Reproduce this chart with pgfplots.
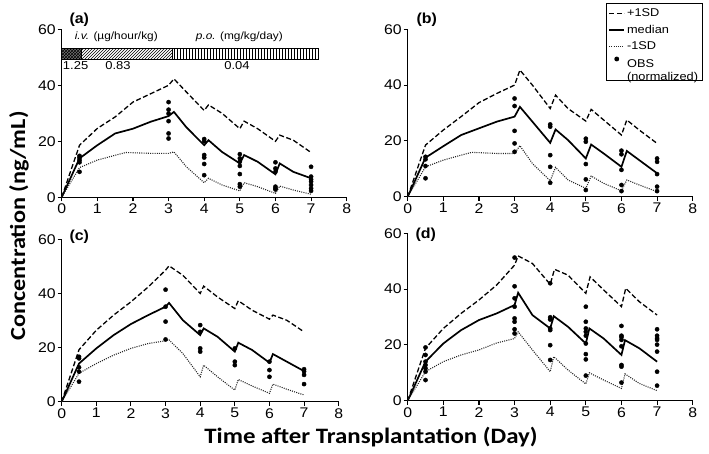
\documentclass[border=0pt]{standalone}
\usepackage{pgfplots}
\pgfplotsset{compat=1.18}
\usepackage{graphicx}
\usepackage{fontspec}
\setmainfont{Liberation Sans}
\newfontfamily\carlito{Carlito}
\usetikzlibrary{patterns}
\newcommand\sx[1]{\scalebox{1.13}[1]{#1}}

\pgfplotsset{
 panel/.style={
  scale only axis, xmin=0, xmax=8, ymin=0, ymax=60,
  axis x line=bottom, axis y line=left,
  axis line style={line width=1.3pt,-},
  xtick={0,...,8}, ytick={0,20,40,60},
  tick align=outside, major tick length=4pt,
  every tick/.style={line width=1.1pt, black},
  /pgf/number format/assume math mode=true,
  xticklabel={\sx{\pgfmathprintnumber{\tick}}},
  yticklabel={\sx{\pgfmathprintnumber{\tick}}},
  ticklabel style={font=\fontsize{14}{16}\selectfont},
  xticklabel style={yshift=1pt},
  yticklabel style={xshift=1.5pt},
  clip=false,
 },
 upper/.style={black, line width=1.3pt, dash pattern=on 5pt off 2.5pt},
 med/.style={black, line width=1.7pt},
 lower/.style={black!85, line width=1.1pt, dash pattern=on 1pt off 1.2pt},
 obs/.style={only marks, mark=*, mark size=2.1pt, black},
}

\begin{document}
\begin{tikzpicture}[x=1pt,y=1pt]
\useasboundingbox (0,0) rectangle (709,453);

% ---------------- panel (a)
\begin{axis}[panel, width=285pt, height=168pt, at={(61.7pt,255.7pt)}, anchor=south west]
\fill[black!55] (axis cs:0,49.2) rectangle (axis cs:0.55,53.1);
\fill[pattern=crosshatch, pattern color=black] (axis cs:0,49.2) rectangle (axis cs:0.55,53.1);
\fill[pattern=north east lines] (axis cs:0.55,49.2) rectangle (axis cs:3.12,53.1);
\fill[pattern=vertical lines] (axis cs:3.12,49.2) rectangle (axis cs:7.2,53.1);
\draw[line width=0.8pt] (axis cs:0,49.2) rectangle (axis cs:7.2,53.1);
\draw[line width=0.8pt] (axis cs:0.55,49.2) -- (axis cs:0.55,53.1);
\draw[line width=0.8pt] (axis cs:3.12,49.2) -- (axis cs:3.12,53.1);
\node[anchor=west, font=\fontsize{10.5}{12}\selectfont] at (axis cs:0.27,57.2) {\sx{\textit{i.v.} (µg/hour/kg)}};
\node[anchor=west, font=\fontsize{10.5}{12}\selectfont] at (axis cs:3.67,57.2) {\sx{\textit{p.o.} (mg/kg/day)}};
\node[font=\fontsize{11.5}{12}\selectfont] at (axis cs:0.39,47.0) {\sx{1.25}};
\node[font=\fontsize{11.5}{12}\selectfont] at (axis cs:1.58,47.0) {\sx{0.83}};
\node[font=\fontsize{11.5}{12}\selectfont] at (axis cs:4.92,47.0) {\sx{0.04}};
\addplot[upper] coordinates {(0,0)(0.5,18.6)(1,24.6)(1.5,28.7)(2,34)(2.5,37)(3,40)(3.15,42.3)(3.5,37.6)(4,31)(4.12,33)(4.5,30)(5,24.5)(5.12,27.2)(5.5,24.5)(6,20)(6.12,22.2)(6.5,20.4)(7,16)};
\addplot[med] coordinates {(0,0)(0.5,13.9)(1,18.6)(1.5,22.8)(2,24.5)(2.5,27)(3,29)(3.15,30.5)(3.5,25)(4,18.6)(4.12,20.4)(4.5,16.2)(5,12.1)(5.12,15.1)(5.5,12.7)(6,8.2)(6.12,12.1)(6.5,9.1)(7,6.8)};
\addplot[lower] coordinates {(0,0)(0.5,10.6)(1,13.3)(1.5,15)(1.8,16)(2.5,15.7)(3,15.7)(3.15,16.2)(3.5,10.9)(4,5.2)(4.12,6.8)(4.5,4.4)(5,2.3)(5.12,5.2)(5.5,3.8)(6,1.4)(6.12,4)(6.5,2.6)(7,1.1)};
\addplot[obs] coordinates {(0.5,14.8)(0.5,14.1)(0.5,13.3)(0.5,12.5)(0.5,9.1)(3,34)(3,31.3)(3,29.9)(3,27.2)(3,22.8)(3,21)(4,20.8)(4,20)(4,15.1)(4,14.2)(4,11.9)(4,7.9)(5,15.4)(5,13.9)(5,12.7)(5,11.2)(5,8.3)(5,4.7)(5,3.8)(6,12.5)(6,10.3)(6,9.1)(6,3.8)(6,3.2)(6,2.8)(7,10.9)(7,7.4)(7,6.4)(7,5.6)(7,4.4)(7,3.2)(7,2.3)};
\end{axis}

% ---------------- panel (b)
\begin{axis}[panel, width=285pt, height=167.4pt, at={(407.7pt,256.3pt)}, anchor=south west,
  legend style={at={(1.036,1.155)}, anchor=north east, draw=black, line width=0.8pt,
    font=\fontsize{11.3}{13.5}\selectfont, row sep=2.8pt, inner xsep=2.5pt, inner ysep=3pt},
  legend cell align=left,
  legend image code/.code={\draw[#1] (0pt,0pt) -- (15pt,0pt);}]
\addplot[upper] coordinates {(0,0)(0.5,18.5)(1,23.9)(1.5,28.7)(2,33.7)(2.5,37)(3,40)(3.15,45.4)(3.5,40)(4,31.6)(4.15,36.4)(4.5,31.6)(5,27.1)(5.15,31.3)(5.5,27.5)(6,22.1)(6.15,27.5)(6.5,23.9)(7,19.1)};
\addlegendentry{\sx{+1SD}}
\addplot[med] coordinates {(0,0)(0.5,14)(1,18.1)(1.5,22.1)(2,24.5)(2.5,26.9)(3,28.7)(3.15,32.2)(3.5,26.9)(4,19.3)(4.15,24.1)(4.5,20.3)(5,13.7)(5.15,18.7)(5.5,15.5)(6,10.7)(6.15,16.4)(6.5,13.1)(7,8.4)};
\addlegendentry{\sx{median}}
\addplot[lower] coordinates {(0,0)(0.5,10.7)(1,13.1)(1.5,14.9)(1.8,15.9)(2.5,15.5)(3,15.5)(3.15,18.3)(3.5,11.9)(4,5.7)(4.15,10.5)(4.5,6)(5,3)(5.15,7.4)(5.5,4.8)(6,2.1)(6.15,6)(6.5,4.2)(7,1.8)};
\addlegendentry{\sx{-1SD}}
\addplot[obs, legend image code/.code={\fill[black] (7.5pt,7.5pt) circle (2pt);}] coordinates {(0.5,14.3)(0.5,13.4)(0.5,11)(0.5,6.6)(3,35.2)(3,32.5)(3,23.6)(3,19.1)(3,16.1)(4,25.9)(4,25.1)(4,14.9)(4,10.7)(4,5)(5,20.8)(5,19.7)(5,11.7)(5,6.2)(5,2.4)(6,16.5)(6,15.2)(6,9.6)(6,4.2)(6,2)(7,13.7)(7,12.5)(7,8.1)(7,3.6)(7,2)};
\addlegendentry{\sx{\begin{tabular}{@{}l@{}}OBS\\[0pt](normalized)\end{tabular}}}
\end{axis}

% ---------------- panel (c)
\begin{axis}[panel, width=277pt, height=162.4pt, at={(61.7pt,51.3pt)}, anchor=south west]
\addplot[upper] coordinates {(0,0)(0.5,19.2)(1,26.4)(1.5,32)(2,36.9)(2.5,42.4)(3,48.6)(3.1,50.2)(3.5,46.7)(4,40)(4.1,42.7)(4.5,38.7)(5,34.4)(5.1,37.3)(5.5,33.8)(6,30.5)(6.1,32)(6.5,30.1)(7,25.8)};
\addplot[med] coordinates {(0,0)(0.5,14.1)(1,19.7)(1.5,24.6)(2,28.7)(2.5,32)(3,35.1)(3.1,36.5)(3.5,30.1)(4,24.6)(4.1,27.1)(4.5,24)(5,18.5)(5.1,21.8)(5.5,19.1)(6,14.4)(6.1,17.6)(6.5,14.8)(7,11.3)};
\addplot[lower] coordinates {(0,0)(0.5,10.5)(1,14.1)(1.5,17.2)(2,19.7)(2.5,21.5)(3,22.5)(3.1,22.8)(3.5,17.8)(4,9.2)(4.1,13.5)(4.5,9.2)(5,4.3)(5.1,8.2)(5.5,5.8)(6,3.1)(6.1,6.5)(6.5,4.6)(7,2.5)};
\addplot[obs] coordinates {(0.5,16.6)(0.5,16)(0.5,12.7)(0.5,11.1)(0.5,7.4)(3,41.4)(3,35.1)(3,29.6)(3,23)(4,28.3)(4,25.8)(4,19.7)(4,18.5)(5,19.7)(5,14.8)(5,13.5)(6,14.8)(6,11.7)(6,9.2)(7,12)(7,11.2)(7,9.9)(7,6.5)};
\end{axis}

% ---------------- panel (d)
\begin{axis}[panel, width=285pt, height=167.4pt, at={(407.7pt,52.3pt)}, anchor=south west]
\addplot[upper] coordinates {(0,0)(0.5,18.8)(1,25.9)(1.5,31.3)(2,36.1)(2.5,41.5)(3,48.6)(3.1,51.9)(3.5,49.2)(4,41.7)(4.12,47.1)(4.5,45)(5,38.5)(5.12,44.4)(5.5,39.7)(6,33.7)(6.12,40.3)(6.5,35.5)(7,30.7)};
\addplot[med] coordinates {(0,0)(0.5,14)(1,20.5)(1.5,25.3)(2,28.9)(2.5,31.3)(3,34.3)(3.1,38.7)(3.5,30.7)(4,25.9)(4.1,30.3)(4.5,26.5)(5,20.5)(5.1,25.9)(5.5,22.3)(6,16.4)(6.1,21.7)(6.5,18.8)(7,14)};
\addplot[lower] coordinates {(0,0)(0.5,10.4)(1,14)(1.5,16.4)(2,18.2)(2.5,20.7)(3,22.3)(3.1,24.7)(3.5,18.2)(4,10.4)(4.1,15.8)(4.5,11)(5,6)(5.1,10)(5.5,7.4)(6,4.4)(6.1,9.6)(6.5,6.2)(7,3.6)};
\addplot[obs] coordinates {(0.5,19.1)(0.5,16.4)(0.5,14)(0.5,12.8)(0.5,11.6)(0.5,10.4)(0.5,7.4)(3,51.3)(3,41)(3,36.7)(3,33.7)(3,29.5)(3,28.3)(3,25.6)(3,24.1)(4,42.1)(4,29.9)(4,29.1)(4,25.9)(4,25.3)(4,19.9)(4,14.6)(5,33.7)(5,28.3)(5,25.9)(5,24.7)(5,23.3)(5,20.5)(5,16.7)(5,14.8)(5,9)(6,26.8)(6,23.3)(6,22.8)(6,21.8)(6,19.5)(6,12.8)(6,12.2)(6,6.5)(7,25.6)(7,23.3)(7,22.4)(7,21.8)(7,20.1)(7,17.6)(7,10.4)(7,5.4)};
\end{axis}

% ---------------- panel letters and shared labels
\node[anchor=west, font=\bfseries\fontsize{14.5}{16}\selectfont] at (66,433) {\scalebox{1.1}[1]{(a)}};
\node[anchor=west, font=\bfseries\fontsize{14.5}{16}\selectfont] at (413,433) {\scalebox{1.1}[1]{(b)}};
\node[anchor=west, font=\bfseries\fontsize{14.5}{16}\selectfont] at (66,216) {\scalebox{1.1}[1]{(c)}};
\node[anchor=west, font=\bfseries\fontsize{14.5}{16}\selectfont] at (412,218) {\scalebox{1.1}[1]{(d)}};
\node[anchor=base, font=\carlito\bfseries\fontsize{22}{26}\selectfont] at (371,10) {\sx{Time after Transplantation (Day)}};
\node[anchor=base, rotate=90, font=\carlito\bfseries\fontsize{21.5}{26}\selectfont] at (25,227) {\scalebox{1.13}[1]{Concentration (ng/mL)}};
\end{tikzpicture}
\end{document}
